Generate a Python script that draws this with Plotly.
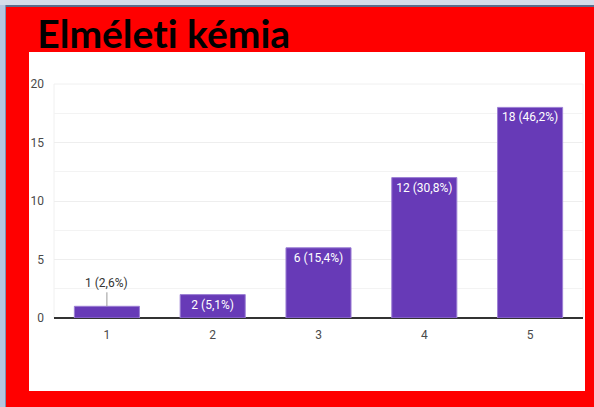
import plotly.graph_objects as go

categories = ["1", "2", "3", "4", "5"]
counts = [1, 2, 6, 12, 18]
percent_labels = ["2,6%", "5,1%", "15,4%", "30,8%", "46,2%"]
y_ticks = [0, 5, 10, 15, 20]
title_text = "Elméleti kémia"

labels = [f"{c} ({p})" for c, p in zip(counts, percent_labels)]
inside_text = [lab if c >= 2 else "" for c, lab in zip(counts, labels)]

fig = go.Figure()
fig.add_trace(go.Bar(
    x=categories, y=counts,
    marker=dict(color="#673AB7", line=dict(color="#9C7FD4", width=1)),
    text=inside_text, textposition="inside", insidetextanchor="end",
    textangle=0,
    textfont=dict(color="white", size=12, family="Roboto"),
    cliponaxis=False,
))

# outside label for the small bar with leader line
for i, (c, lab) in enumerate(zip(counts, labels)):
    if c < 2:
        fig.add_annotation(x=i, y=c, text=lab, showarrow=True, arrowhead=0,
                           arrowwidth=1, arrowcolor="#999999", ax=0, ay=-14,
                           font=dict(size=12, color="#333333", family="Roboto"),
                           yanchor="bottom", standoff=0)

W, H = 594, 407
ml, mr, mt, mb = 54, 11, 84, 89
pw, ph = W - ml - mr, H - mt - mb

def px(x):
    return (x - ml) / pw

def py(y):
    return (H - mb - y) / ph

shapes = [
    # white panel
    dict(type="rect", xref="paper", yref="paper", x0=px(29), x1=px(585),
         y0=py(391), y1=py(52), fillcolor="white", line=dict(width=0), layer="below"),
    # top window strip
    dict(type="rect", xref="paper", yref="paper", x0=px(0), x1=px(594),
         y0=py(5), y1=py(0), fillcolor="#D4DCE8", line=dict(width=0), layer="above"),
    dict(type="rect", xref="paper", yref="paper", x0=px(0), x1=px(594),
         y0=py(7), y1=py(5), fillcolor="#5B6E8C", line=dict(width=0), layer="above"),
    # left window strip
    dict(type="rect", xref="paper", yref="paper", x0=px(0), x1=px(5),
         y0=py(407), y1=py(5), fillcolor="#B4C6E0", line=dict(width=0), layer="above"),
    dict(type="rect", xref="paper", yref="paper", x0=px(5), x1=px(6),
         y0=py(407), y1=py(5), fillcolor="#7F93B3", line=dict(width=0), layer="above"),
    # faint plot border
    dict(type="rect", xref="paper", yref="paper", x0=0, x1=1, y0=0, y1=1,
         line=dict(color="#F0F0F0", width=1), layer="below"),
]

fig.add_annotation(xref="paper", yref="paper", x=px(35), y=py(58),
                   xanchor="left", yanchor="bottom", showarrow=False,
                   text=f"<b>{title_text}</b>",
                   font=dict(family="Lato", size=39, color="black"))

fig.update_layout(
    width=W, height=H,
    margin=dict(l=ml, r=mr, t=mt, b=mb, autoexpand=False),
    paper_bgcolor="#FF0000",
    plot_bgcolor="white",
    showlegend=False,
    bargap=0.385,
    shapes=shapes,
    font=dict(family="Roboto", size=12, color="#4A4A4A"),
    xaxis=dict(type="category", range=[-0.5, 4.5], showgrid=False,
               showline=False, ticks="", ticklabelstandoff=8, automargin=False,
               tickfont=dict(size=12, color="#4A4A4A")),
    yaxis=dict(range=[0, 20], tickvals=y_ticks, showgrid=True,
               gridcolor="#EEEEEE", gridwidth=1, automargin=False,
               minor=dict(dtick=2.5, showgrid=True, gridcolor="#F3F3F3"),
               zeroline=True, zerolinecolor="#333333", zerolinewidth=1.5,
               showline=False, ticks="", ticklabelstandoff=9,
               tickfont=dict(size=12, color="#4A4A4A")),
)

fig.write_html(
    "out.html", config={"displayModeBar": False},
    post_script=("document.body.style.margin='0';document.body.style.overflow='hidden';"
                 "document.head.insertAdjacentHTML('beforeend',"
                 "'<style>text{font-variant-ligatures:none;font-feature-settings:\"liga\" 0;}</style>');"))
